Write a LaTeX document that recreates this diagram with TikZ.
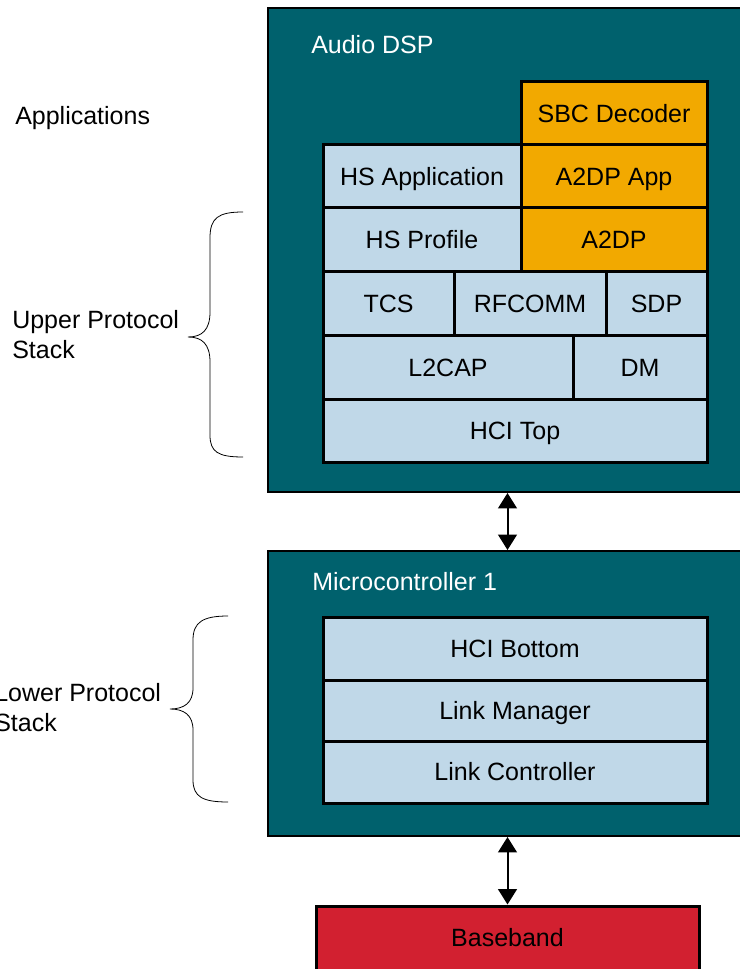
\documentclass[tikz,border=0pt]{standalone}
\usepackage{fontspec}
\setmainfont{Liberation Sans}
\usetikzlibrary{arrows.meta,fit}

\definecolor{chipteal}{RGB}{0,97,109}
\definecolor{layerblue}{RGB}{192,216,232}
\definecolor{codecorange}{RGB}{242,169,0}
\definecolor{basered}{RGB}{210,32,48}

\tikzset{
	chip/.style={draw=black, line width=1.5pt, fill=chipteal, inner sep=0pt},
	layer/.style 2 args={draw=black, line width=2.25pt, fill=layerblue, inner sep=0pt,
		minimum width=#1*0.75pt, minimum height=#2*0.75pt,
		text height=13.4pt, text depth=0pt},
	codeclayer/.style 2 args={layer={#1}{#2}, fill=codecorange},
	chiplabel/.style={text=white, anchor=west, inner sep=0pt},
	sidelabel/.style={anchor=west, align=left, inner sep=0pt},
	link/.style={line width=1.5pt,
		{Triangle[width=14pt,length=11.5pt]}-{Triangle[width=14pt,length=11.5pt]}},
	stackbrace/.style={line width=0.6pt}
}

\begin{document}
\begin{tikzpicture}[x=0.75pt, y=-0.75pt, font=\fontsize{18.75}{22.5}\selectfont]
			
			\useasboundingbox (0, 0) rectangle (739, 969);

			% Audio DSP
			\node[chip, fit={(268, 8) (760, 492)}] (dsp) {};
			\node[chiplabel] (dsplabel) at (311, 45) {Audio DSP};
			\node[codeclayer={186}{63}] (sbc) at (614, 113.5) {SBC Decoder};
			\node[layer={198}{63}] (hsapp) at (422, 176.5) {HS Application};
			\node[codeclayer={186}{63}] (a2dpapp) at (614, 176.5) {A2DP App};
			\node[layer={198}{64}] (hsprofile) at (422, 240) {HS Profile};
			\node[codeclayer={186}{64}] (a2dp) at (614, 240) {A2DP};
			\node[layer={131}{64}] (tcs) at (388.5, 304) {TCS};
			\node[layer={152}{64}] (rfcomm) at (530, 304) {RFCOMM};
			\node[layer={101}{64}] (sdp) at (656.5, 304) {SDP};
			\node[layer={250}{63}] (l2cap) at (448, 367.5) {L2CAP};
			\node[layer={134}{63}] (dm) at (640, 367.5) {DM};
			\node[layer={384}{63}] (hcitop) at (515, 430.5) {HCI Top};

			% Microcontroller 1
			\node[chip, fit={(268, 551) (760, 836)}] (mcu) {};
			\node[chiplabel] (mculabel) at (312, 582) {Microcontroller 1};
			\node[layer={384}{63}] (hcibottom) at (515, 648.5) {HCI Bottom};
			\node[layer={384}{61}] (linkmgr) at (515, 710.5) {Link Manager};
			\node[layer={384}{62}] (linkctrl) at (515, 772) {Link Controller};

			% Baseband
			\node[layer={383}{64}, fill=basered] (baseband) at (507.5, 938) {Baseband};

			\draw[link] (baseband.north |- dsp.south) -- (baseband.north |- mcu.north);
			\draw[link] (baseband.north |- mcu.south) -- (baseband.north);

			% side labels
			\node[sidelabel] (applabel) at (15, 118) {Applications};
			\node[sidelabel] (upperlabel) at (12, 335) {Upper Protocol\\Stack};
			\node[sidelabel] (lowerlabel) at (-6, 708) {Lower Protocol\\Stack};

			\draw[stackbrace] (243, 212) .. controls (218, 212) and (210, 218) .. (210, 238)
				-- (210, 312) .. controls (210, 330) and (202, 337) .. (188, 337)
				.. controls (202, 337) and (210, 344) .. (210, 362)
				-- (210, 435) .. controls (210, 452) and (218, 457) .. (243, 457);
			\draw[stackbrace] (228, 616) .. controls (203, 616) and (193, 622) .. (193, 640)
				-- (193, 688) .. controls (193, 703) and (184, 709) .. (170, 709)
				.. controls (184, 709) and (193, 715) .. (193, 730)
				-- (193, 780) .. controls (193, 797) and (203, 802) .. (228, 802);

		\end{tikzpicture}
\end{document}
